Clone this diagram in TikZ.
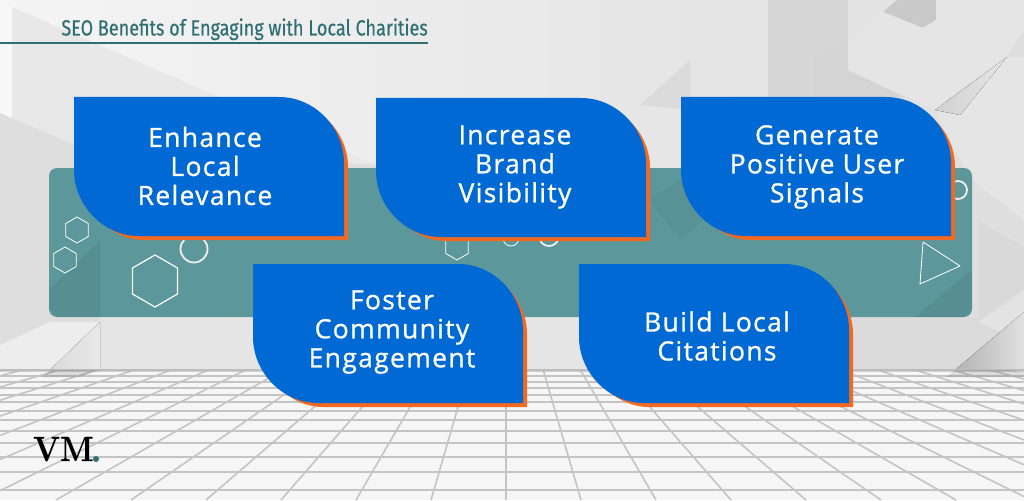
\documentclass[tikz,border=0pt]{standalone}
\usepackage{fontspec}
\usetikzlibrary{shapes.geometric}
\setmainfont{Open Sans}
\newfontfamily\cardfont[LetterSpace=5,FakeBold=0.9]{Open Sans}
\newfontfamily\titlefont[FakeStretch=0.82,FakeBold=0.4]{Fira Sans}
\newfontfamily\logofont[FakeStretch=0.9,FakeBold=0.5]{Latin Modern Roman}
\definecolor{cardblue}{HTML}{0069D3}
\definecolor{cardorange}{HTML}{F26A21}
\definecolor{panelteal}{HTML}{5C979B}
\definecolor{titleteal}{HTML}{2F6F73}
\definecolor{gridgray}{HTML}{C4C4C4}
\definecolor{floorgray}{HTML}{F6F6F6}
\tikzset{
	cardtext/.style={text=white,align=center,font=\cardfont\fontsize{26.5}{29}\selectfont},
	facet/.style={fill=black!#1},
	hexshape/.style={draw=white,line width=.8pt,regular polygon,regular polygon sides=6,shape border rotate=30,minimum size=#1,inner sep=0pt},
	shapeline/.style={draw=white,line width=.8pt},
	ringline/.style={draw=white!88!gray,line width=1.8pt},
	floorline/.style={draw=gridgray,line width=1.6pt}
}
\begin{document}
\begin{tikzpicture}[x=1pt,y=-1pt,line join=round]
	\useasboundingbox (0,0) rectangle (1024,500);
	\clip (0,0) rectangle (1024,500);
	% wall
	\fill[left color=black!4,right color=black!13] (0,0) rectangle (1024,370);
	\fill[facet=3] (0,0)--(12,7)--(12,118)--(0,113)--cycle;
	\fill[facet=9] (12,7)--(376,165)--(74,145)--(12,118)--cycle;
	\fill[facet=13] (0,113)--(80,147)--(376,165)--(376,370)--(0,370)--cycle;
	\fill[facet=10] (100,317)--(100,370)--(600,370)--(600,317)--cycle;
	\fill[facet=7] (0,345)--(50,322)--(100,322)--(50,370)--(0,370)--cycle;
	\fill[left color=black!14,right color=black!9] (100,322)--(100,370)--(50,370)--cycle;
	\fill[facet=14] (640,105)--(690,60)--(690,110)--cycle;
	\fill[facet=16] (768,0)--(848,0)--(848,97)--(768,97)--cycle;
	\fill[facet=17] (813,57)--(848,40)--(848,70)--(905,97)--(813,97)--cycle;
	\fill[facet=11] (848,0)--(897,0)--(883,12)--(848,40)--cycle;
	\fill[facet=21] (883,12)--(897,0)--(936,0)--(936,20)--(923,28)--cycle;
	\fill[facet=10] (848,70)--(848,40)--(883,12)--(923,28)--(936,20)--(936,0)--(1024,0)--(1024,30)--(1007,57)--(935,110)--cycle;
	\fill[facet=10] (935,110)--(1007,57)--(1024,57)--(1024,220)--(972,180)--(940,122)--cycle;
	\fill[left color=black!18,right color=black!10] (935,110)--(1007,57)--(960,115)--cycle;
	\fill[facet=14] (848,317)--(1024,317)--(1024,370)--(848,370)--cycle;
	\fill[facet=15] (978,220)--(1024,248)--(1024,290)--(978,322)--cycle;
	\fill[facet=11] (978,322)--(1024,290)--(1024,312)--(1000,332)--cycle;
	\fill[left color=black!30,right color=black!12] (955,370)--(1024,312)--(1024,370)--cycle;
	% panel
	\fill[panelteal,rounded corners=8pt] (49,168) rectangle (972,317);
	\fill[black,opacity=.06] (972,270)--(972,309)--(964,317)--(915,317)--cycle;
	\fill[black,opacity=.06] (49,290)--(100,240)--(100,317)--(57,317)--(49,309)--cycle;
	\fill[black,opacity=.03] (648,200)--(700,168)--(760,168)--(681,240)--cycle;
	% shapes on panel
	\node[hexshape=26pt] (hexa) at (77,230) {};
	\node[hexshape=26pt] (hexb) at (65,260) {};
	\node[hexshape=52pt,line width=1.2pt] (hexc) at (155,281) {};
	\node[hexshape=26pt] (hexd) at (457,247) {};
	\draw[ringline] (194,249) circle (13.5);
	\draw[shapeline] (511,238) circle (8);
	\draw[ringline] (549,236) circle (10);
	\draw[ringline] (958,190) circle (9);
	\draw[shapeline] (923,242)--(960,266)--(920,284)--cycle;
	% floor
	\fill[floorgray] (0,369) rectangle (1024,500);
	\begin{scope}
		\clip (0,369) rectangle (1024,500);
		\foreach \k in {-30,...,30}
			\draw[floorline] (506,242)--({506+75*\k},500);
		\foreach \yy in {370,376,382,388,395,402,411,420,431,443,457,472,490}
			\draw[floorline,line width=2pt] (0,\yy)--(1024,\yy);
		\fill[black!28,opacity=.6] (0,369) rectangle (1024,372);
		\fill[black,opacity=.1] (955,370)--(1010,370)--(1024,372)--(1024,377)--(946,377)--cycle;
		\fill[black,opacity=.1] (50,370)--(100,370)--(80,377)--(42,377)--cycle;
	\end{scope}
	% cards
	\foreach \px/\py/\tx/\ty/\nm/\txt in {
		74/97/205/166/enhance/{Enhance\\Local\\Relevance},
		376/98/515/167/brand/{Increase\\Brand\\Visibility},
		681/97/817/167/signals/{Generate\\Positive User\\Signals},
		253/264/392/332/foster/{Foster\\Community\\Engagement},
		579/264/717/336/citations/{Build Local\\Citations}}{
		\begin{scope}[shift={(\px,\py)}]
			\fill[cardorange] (4,4)--(205,4) .. controls (245,4) and (274,35) .. (274,70)--(274,143)--(70,143) .. controls (35,143) and (4,110) .. (4,70)--cycle;
			\fill[cardblue] (0,0)--(205,0) .. controls (241,0) and (270,31) .. (270,66)--(270,139)--(65,139) .. controls (29,139) and (0,108) .. (0,73)--cycle;
		\end{scope}
		\node[cardtext] (\nm) at (\tx,\ty) {\txt};
	}
	% title
	\node[anchor=base east,text=titleteal,font=\titlefont\fontsize{22}{22}\selectfont,inner sep=0pt] (title) at (428,35.5) {SEO Benefits of Engaging with Local Charities};
	\coordinate (ruleleft) at (0,43);
	\coordinate (ruleright) at (428,43);
	\draw[titleteal,line width=1.6pt] (ruleleft)--(ruleright);
	% logo
	\node[anchor=base west,font=\logofont\bfseries\fontsize{35}{35}\selectfont,inner sep=0pt] (logo) at (33,461) {VM};
	\fill[titleteal] (96,459) circle (3);
\end{tikzpicture}
\end{document}
